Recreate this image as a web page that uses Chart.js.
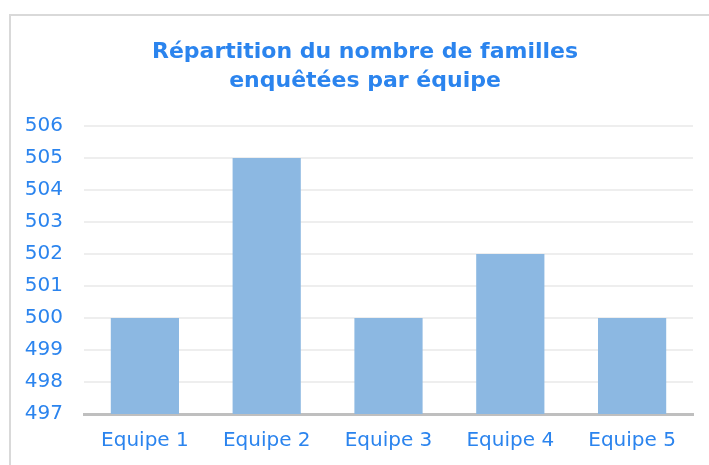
<!DOCTYPE html>
<html>
<head>
<meta charset="utf-8">
<script src="https://cdn.jsdelivr.net/npm/chart.js@4"></script>
<style>
  html, body { margin: 0; padding: 0; background: #fff; }
  #wrap { position: relative; width: 709px; height: 465px; }
  #frame { position: absolute; left: 9px; top: 14px; right: 0; bottom: 0;
           border-top: 2px solid #d9d9d9; border-left: 2px solid #d9d9d9; }
  canvas { position: absolute; left: 0; top: 0; }
</style>
</head>
<body>
<div id="wrap">
  <div id="frame"></div>
  <canvas id="chart" width="709" height="465"></canvas>
</div>
<script>
const equipes = ["Equipe 1", "Equipe 2", "Equipe 3", "Equipe 4", "Equipe 5"];
const familles = [500, 505, 500, 502, 500];
const titre = ["Répartition du nombre de familles", "enquêtées par équipe"];

const bleu = "#2b84ee";

// title in the reference sits a bit right of the canvas centre
const titleShift = {
  id: 'titleShift',
  afterLayout(chart) {
    if (chart.titleBlock) chart.titleBlock.left += 27;
  }
};

new Chart(document.getElementById("chart"), {
  type: 'bar',
  data: {
    labels: equipes,
    datasets: [{
      data: familles,
      backgroundColor: '#8cb8e2',
      barPercentage: 0.56,
      categoryPercentage: 1
    }]
  },
  options: {
    responsive: false,
    animation: false,
    layout: { padding: { left: 10, right: 16, top: 0, bottom: 0 } },
    plugins: {
      legend: { display: false },
      tooltip: { enabled: false },
      title: {
        display: true,
        text: titre,
        color: bleu,
        font: { family: 'DejaVu Sans', size: 22, weight: 'bold', lineHeight: 1.32 },
        padding: { top: 38, bottom: 30 }
      }
    },
    scales: {
      x: {
        grid: { display: false, drawTicks: false },
        border: { color: '#bfbfbf', width: 3 },
        ticks: { color: bleu, padding: 15, font: { family: 'DejaVu Sans', size: 20 } },
        afterFit: s => { s.height = 51; }
      },
      y: {
        min: 497,
        max: 506,
        ticks: { stepSize: 1, color: bleu, padding: 21, font: { family: 'DejaVu Sans', size: 20 } },
        grid: { color: '#eeeeee', lineWidth: 2, drawTicks: false },
        border: { display: false },
        afterFit: s => { s.width = 74; }
      }
    }
  },
  plugins: [titleShift]
});
</script>
</body>
</html>
